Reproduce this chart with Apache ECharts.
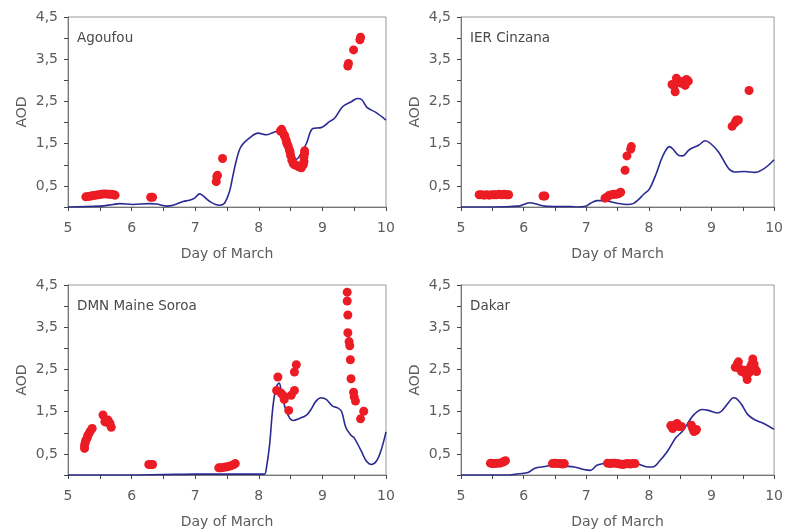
<!DOCTYPE html>
<html>
<head>
<meta charset="utf-8">
<script src="https://cdn.jsdelivr.net/npm/echarts@6/dist/echarts.min.js"></script>
<style>
html,body{margin:0;padding:0;background:#fff;}
#chart{width:786px;height:530px;}
</style>
</head>
<body>
<div id="chart"></div>
<script>
// Panel titles
const stations = ["Agoufou", "IER Cinzana", "DMN Maine Soroa", "Dakar"];
const xTitle = "Day of March";
const yTitle = "AOD";

// Observed AOD (day, AOD) – red dots
const obsAgoufou = [
  [5.28,0.24],[5.32,0.25],[5.36,0.26],[5.40,0.27],[5.44,0.28],[5.48,0.29],[5.52,0.30],[5.56,0.31],
  [5.60,0.31],[5.64,0.30],[5.68,0.30],[5.72,0.29],[5.74,0.28],
  [6.30,0.23],[6.33,0.23],
  [7.33,0.60],[7.34,0.72],[7.35,0.75],[7.43,1.15],
  [8.34,1.80],[8.36,1.84],[8.38,1.76],[8.40,1.70],[8.41,1.67],[8.43,1.58],[8.44,1.51],[8.46,1.45],
  [8.48,1.36],[8.49,1.31],[8.50,1.22],[8.52,1.11],[8.54,1.03],[8.56,1.00],[8.59,0.99],[8.62,0.96],
  [8.65,0.94],[8.67,0.93],[8.70,1.00],[8.71,1.08],[8.71,1.18],[8.72,1.27],[8.72,1.33],
  [9.40,3.34],[9.41,3.40],[9.49,3.72],[9.59,3.96],[9.60,4.02]
];
const obsCinzana = [
  [5.29,0.29],[5.33,0.29],[5.37,0.28],[5.41,0.29],[5.45,0.28],[5.49,0.29],[5.53,0.29],[5.57,0.29],
  [5.61,0.30],[5.65,0.29],[5.69,0.30],[5.73,0.29],[5.76,0.29],
  [6.31,0.26],[6.34,0.26],
  [7.30,0.21],[7.33,0.23],[7.36,0.27],[7.40,0.29],[7.44,0.30],[7.48,0.30],[7.52,0.32],[7.55,0.35],
  [7.62,0.87],[7.65,1.21],[7.71,1.37],[7.72,1.43],
  [8.37,2.90],[8.40,2.87],[8.42,2.73],[8.44,3.05],[8.46,2.95],[8.49,2.97],[8.52,2.93],[8.55,2.97],
  [8.58,2.88],[8.60,3.02],[8.63,2.98],
  [9.33,1.91],[9.38,2.00],[9.40,2.06],[9.43,2.06],[9.60,2.76]
];
const obsMaineSoroa = [
  [5.26,0.63],[5.26,0.70],[5.27,0.76],[5.28,0.82],[5.30,0.87],[5.31,0.93],[5.33,0.98],[5.35,1.04],[5.38,1.10],
  [5.55,1.42],[5.58,1.26],[5.61,1.25],[5.63,1.30],[5.66,1.22],[5.68,1.13],
  [6.27,0.25],[6.30,0.25],[6.33,0.25],
  [7.37,0.17],[7.40,0.17],[7.44,0.18],[7.48,0.19],[7.52,0.20],[7.56,0.22],[7.60,0.24],[7.63,0.27],
  [8.28,2.00],[8.30,2.32],[8.35,1.94],[8.38,1.89],[8.40,1.79],[8.47,1.53],[8.51,1.89],[8.56,2.00],
  [8.56,2.44],[8.59,2.61],
  [9.39,4.33],[9.39,4.12],[9.40,3.79],[9.40,3.37],[9.42,3.16],[9.43,3.06],[9.44,2.73],[9.45,2.28],
  [9.49,1.96],[9.50,1.85],[9.52,1.75],[9.60,1.33],[9.65,1.51]
];
const obsDakar = [
  [5.47,0.28],[5.50,0.27],[5.54,0.27],[5.58,0.28],[5.62,0.28],[5.66,0.30],[5.69,0.32],[5.71,0.34],
  [6.46,0.27],[6.50,0.28],[6.54,0.27],[6.58,0.27],[6.62,0.26],[6.65,0.27],
  [7.34,0.28],[7.38,0.27],[7.42,0.28],[7.46,0.28],[7.50,0.27],[7.54,0.26],[7.58,0.25],[7.62,0.26],
  [7.66,0.27],[7.70,0.26],[7.74,0.27],[7.78,0.27],
  [8.35,1.17],[8.38,1.10],[8.41,1.17],[8.45,1.22],[8.48,1.15],[8.52,1.15],
  [8.68,1.18],[8.70,1.10],[8.72,1.03],[8.75,1.05],[8.76,1.08],
  [9.38,2.55],[9.41,2.62],[9.43,2.68],[9.45,2.52],[9.48,2.45],[9.52,2.48],[9.55,2.38],[9.57,2.26],
  [9.60,2.42],[9.62,2.55],[9.64,2.62],[9.66,2.75],[9.68,2.63],[9.70,2.50],[9.72,2.45]
];

// Modelled AOD (day, AOD) – blue line
const modAgoufou = [
  [5.00,0.00],[5.50,0.02],[5.71,0.06],[5.81,0.08],[6.02,0.06],[6.28,0.08],[6.39,0.07],[6.55,0.02],
  [6.65,0.04],[6.81,0.13],[6.91,0.16],[6.99,0.21],[7.07,0.31],[7.12,0.27],[7.23,0.13],[7.38,0.04],
  [7.46,0.09],[7.54,0.37],[7.59,0.72],[7.65,1.12],[7.72,1.43],[7.85,1.63],[7.99,1.75],[8.12,1.71],
  [8.22,1.76],[8.33,1.81],[8.43,1.67],[8.54,1.28],[8.59,1.13],[8.67,1.28],[8.75,1.51],[8.85,1.86],
  [8.98,1.88],[9.11,2.02],[9.19,2.10],[9.32,2.38],[9.46,2.50],[9.55,2.57],[9.62,2.54],[9.70,2.36],
  [9.84,2.24],[10.00,2.06]
];
const modCinzana = [
  [5.00,0.00],[5.50,0.00],[5.92,0.02],[6.00,0.06],[6.10,0.10],[6.20,0.07],[6.34,0.02],[6.55,0.01],
  [6.75,0.01],[6.86,0.00],[6.99,0.02],[7.07,0.09],[7.17,0.15],[7.28,0.15],[7.49,0.09],[7.65,0.06],
  [7.75,0.08],[7.83,0.17],[7.91,0.29],[8.01,0.43],[8.12,0.80],[8.22,1.20],[8.33,1.43],[8.38,1.38],
  [8.48,1.22],[8.54,1.21],[8.64,1.35],[8.80,1.47],[8.90,1.57],[8.98,1.51],[9.11,1.31],[9.27,0.92],
  [9.37,0.83],[9.53,0.84],[9.69,0.82],[9.85,0.92],[10.00,1.12]
];
const modMaineSoroa = [
  [5.00,0.00],[5.90,0.00],[6.50,0.01],[7.00,0.02],[7.50,0.02],[8.01,0.02],[8.09,0.02],[8.12,0.17],
  [8.17,0.72],[8.22,1.59],[8.27,2.06],[8.32,2.18],[8.35,2.02],[8.40,1.67],[8.47,1.39],[8.54,1.29],
  [8.64,1.34],[8.75,1.42],[8.82,1.55],[8.90,1.75],[8.98,1.83],[9.06,1.79],[9.16,1.63],[9.24,1.59],
  [9.30,1.51],[9.37,1.12],[9.45,0.94],[9.50,0.88],[9.61,0.57],[9.69,0.33],[9.77,0.25],[9.85,0.33],
  [9.92,0.57],[10.00,1.02]
];
const modDakar = [
  [5.00,0.00],[5.76,0.00],[5.92,0.03],[6.07,0.06],[6.18,0.16],[6.34,0.20],[6.49,0.24],[6.65,0.21],
  [6.81,0.19],[6.96,0.13],[7.07,0.11],[7.17,0.23],[7.28,0.27],[7.49,0.31],[7.70,0.28],[7.85,0.25],
  [7.99,0.19],[8.06,0.19],[8.17,0.33],[8.30,0.57],[8.43,0.88],[8.54,1.04],[8.61,1.20],[8.72,1.43],
  [8.85,1.55],[8.95,1.53],[9.09,1.47],[9.16,1.51],[9.27,1.71],[9.35,1.83],[9.40,1.81],[9.48,1.67],
  [9.58,1.43],[9.69,1.31],[9.85,1.21],[10.00,1.08]
];

const observed = [obsAgoufou, obsCinzana, obsMaineSoroa, obsDakar];
const modelled = [modAgoufou, modCinzana, modMaineSoroa, modDakar];

const grids = [
  {left: 68, top: 17, width: 318, height: 190},
  {left: 461, top: 17, width: 318, height: 190},
  {left: 68, top: 285, width: 318, height: 191},
  {left: 461, top: 285, width: 318, height: 191}
];

const axisColor = '#777';
const textColor = '#5c5c5c';
const fontFamily = '"DejaVu Sans", Verdana, sans-serif';

const option = {
  animation: false,
  backgroundColor: '#fff',
  textStyle: {fontFamily: fontFamily},
  title: stations.map((s, i) => ({
    text: s,
    left: grids[i].left + 4,
    top: grids[i].top + 9,
    textStyle: {fontSize: 13.5, fontWeight: 'normal', color: '#4a4a4a', fontFamily: fontFamily}
  })),
  grid: grids.map(g => Object.assign({show: true, borderColor: '#999', borderWidth: 1, backgroundColor: 'transparent'}, g)),
  xAxis: grids.map((g, i) => ({
    type: 'value', gridIndex: i, min: 5, max: 10, interval: 0.5,
    name: xTitle, nameLocation: 'middle', nameGap: 40,
    nameTextStyle: {fontSize: 14, color: textColor, fontFamily: fontFamily},
    axisLine: {show: true, lineStyle: {color: axisColor, width: 1}},
    axisTick: {show: true, inside: false, length: 4, lineStyle: {color: '#444'}},
    axisLabel: {
      fontSize: 14, color: textColor, margin: 14, fontFamily: fontFamily,
      formatter: v => (Math.abs(v - Math.round(v)) < 1e-6 ? String(Math.round(v)) : '')
    },
    splitLine: {show: false}
  })),
  yAxis: grids.map((g, i) => ({
    type: 'value', gridIndex: i, min: 0, max: 4.5, interval: 0.5,
    name: yTitle, nameLocation: 'middle', nameGap: 39, nameRotate: 90,
    nameTextStyle: {fontSize: 14, color: textColor, fontFamily: fontFamily},
    axisLine: {show: true, lineStyle: {color: axisColor, width: 1}},
    axisTick: {show: true, inside: false, length: 4, lineStyle: {color: '#444'}},
    axisLabel: {
      fontSize: 14, color: textColor, margin: 10, fontFamily: fontFamily,
      formatter: v => (Math.round(v * 2) % 2 === 1 ? v.toFixed(1).replace('.', ',') : '')
    },
    splitLine: {show: false}
  })),
  series: [].concat(
    modelled.map((d, i) => ({
      type: 'line', xAxisIndex: i, yAxisIndex: i, data: d,
      smooth: 0.35, showSymbol: false, symbol: 'none',
      lineStyle: {color: '#2a2a92', width: 1.6}, z: 2
    })),
    observed.map((d, i) => ({
      type: 'scatter', xAxisIndex: i, yAxisIndex: i, data: d,
      symbol: 'circle', symbolSize: 9,
      itemStyle: {color: '#ec1c24', opacity: 1}, z: 3
    }))
  )
};

const chart = echarts.init(document.getElementById('chart'), null, {renderer: 'canvas'});
chart.setOption(option);
</script>
</body>
</html>
